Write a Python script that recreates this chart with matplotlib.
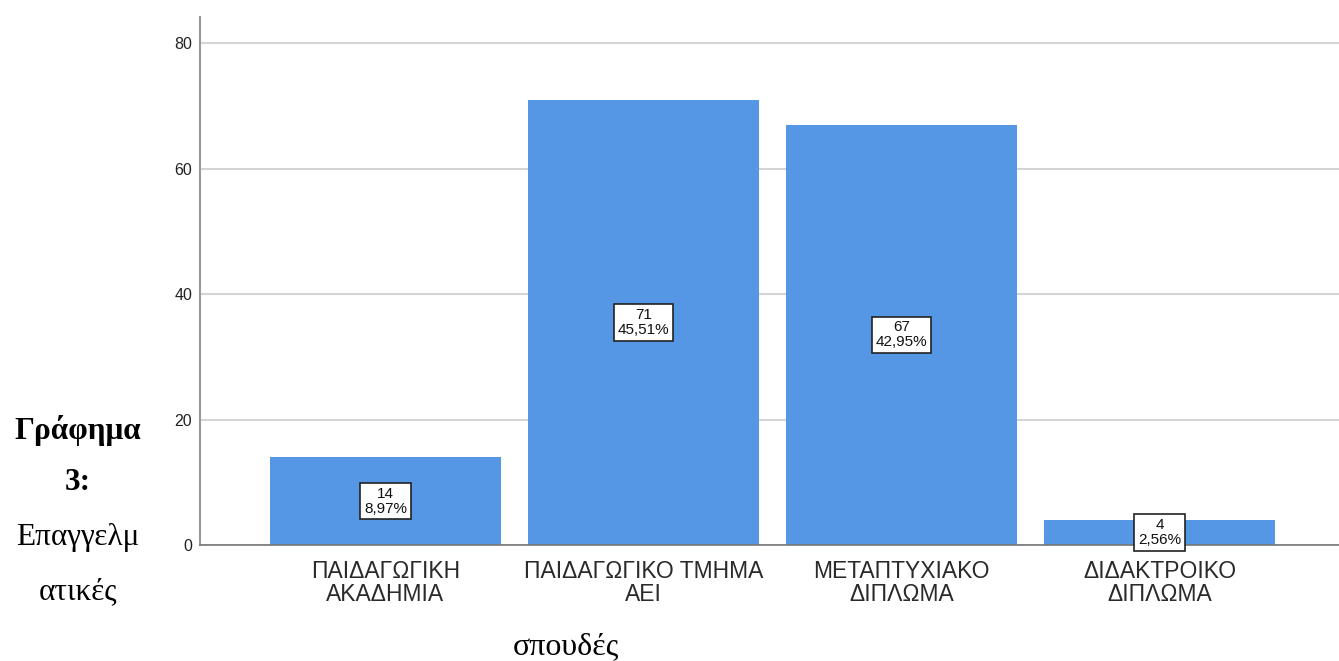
import matplotlib
matplotlib.use("Agg")
import matplotlib.pyplot as plt

categories = ["ΠΑΙΔΑΓΩΓΙΚΗ\nΑΚΑΔΗΜΙΑ", "ΠΑΙΔΑΓΩΓΙΚΟ ΤΜΗΜΑ\nΑΕΙ", "ΜΕΤΑΠΤΥΧΙΑΚΟ\nΔΙΠΛΩΜΑ", "ΔΙΔΑΚΤΡΟΙΚΟ\nΔΙΠΛΩΜΑ"]
counts = [14, 71, 67, 4]
percents = ["8,97%", "45,51%", "42,95%", "2,56%"]
yticks = [0, 20, 40, 60, 80]

W, H = 1339, 661
fig = plt.figure(figsize=(W / 100, H / 100), dpi=100)
ax = fig.add_axes([200 / W, 1 - 545 / H, (1339 - 200) / W, (545 - 17) / H])

x = list(range(len(categories)))
ax.bar(x, counts, width=0.895, color="#5596e5", zorder=2)
ax.set_xlim(-0.719, 3.696)
ax.set_ylim(0, 84.2)
ax.set_yticks(yticks)
ax.set_yticklabels([str(v) for v in yticks], fontsize=11.5, family="Liberation Sans", color="#222222")
ax.set_xticks(x)
ax.set_xticklabels(categories, fontsize=16.5, family="Liberation Sans", color="#2a2a2a", linespacing=1.02)
ax.tick_params(axis="y", length=0, pad=5.5)
ax.tick_params(axis="x", length=0, pad=10.5)
ax.grid(axis="y", color="#d4d4d4", linewidth=1.5, zorder=0)
for s in ["top", "right"]:
    ax.spines[s].set_visible(False)
ax.spines["left"].set_color("#999999")
ax.spines["left"].set_linewidth(1.5)
ax.spines["bottom"].set_color("#777777")
ax.spines["bottom"].set_linewidth(1.2)

for xi, c, p in zip(x, counts, percents):
    ax.text(xi, c / 2, f"{c}\n{p}", ha="center", va="center", fontsize=11,
            family="Liberation Sans", linespacing=1.08, zorder=4, color="#111111",
            bbox=dict(boxstyle="square,pad=0.25", facecolor="white", edgecolor="#222222", linewidth=1.2))

fig.text(78 / W, 1 - 430 / H, "Γράφημα", ha="center", va="center", fontsize=22.5,
         family="Liberation Serif", fontweight="bold")
fig.text(78 / W, 1 - 482 / H, "3:", ha="center", va="center", fontsize=22.5,
         family="Liberation Serif", fontweight="bold")
fig.text(78 / W, 1 - 537 / H, "Επαγγελμ", ha="center", va="center", fontsize=22.5,
         family="Liberation Serif")
fig.text(78 / W, 1 - 592 / H, "ατικές", ha="center", va="center", fontsize=22.5,
         family="Liberation Serif")
fig.text(566 / W, 1 - 647 / H, "σπουδές", ha="center", va="center", fontsize=23,
         family="Liberation Serif")

fig.savefig("out.png", dpi=100)
